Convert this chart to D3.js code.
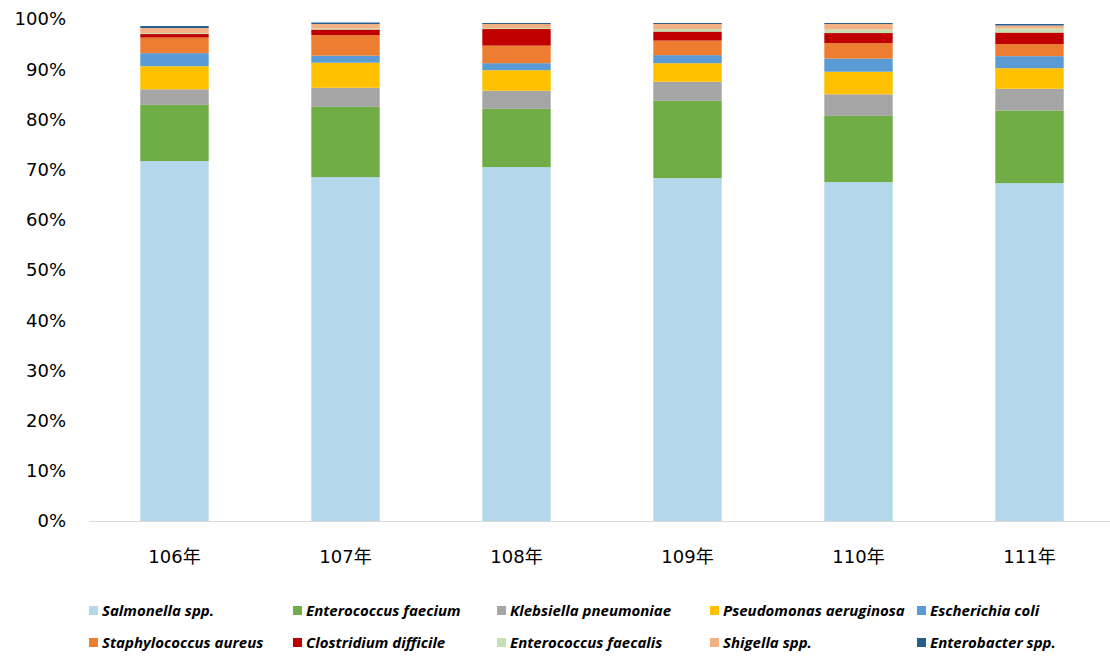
<html>
<head>
<meta charset="utf-8">
<script src="https://d3js.org/d3.v7.min.js"></script>
<style>
body { margin: 0; background: #fff; }
</style>
</head>
<body>
<svg id="chart" width="1110" height="657"></svg>
<script>
// years on the x axis
var years = ["106年", "107年", "108年", "109年", "110年", "111年"];

// species, bottom to top
var species = ["Salmonella spp.", "Enterococcus faecium", "Klebsiella pneumoniae",
  "Pseudomonas aeruginosa", "Escherichia coli", "Staphylococcus aureus",
  "Clostridium difficile", "Enterococcus faecalis", "Shigella spp.", "Enterobacter spp."];

var colors = ["#b4d7eb", "#70ad47", "#a5a5a5", "#ffc000", "#5b9bd5",
  "#ed7d31", "#c00000", "#c5e0b4", "#f4b183", "#255e91"];

// percent per species, one value per year
var salmonella    = [71.7, 68.5, 70.5, 68.3, 67.5, 67.3];
var efaecium      = [11.2, 14.0, 11.6, 15.4, 13.2, 14.5];
var klebsiella    = [3.1, 3.8, 3.6, 3.8, 4.3, 4.3];
var pseudomonas   = [4.6, 5.0, 4.1, 3.7, 4.5, 4.1];
var ecoli         = [2.6, 1.4, 1.4, 1.6, 2.6, 2.4];
var staph         = [3.1, 4.1, 3.5, 2.9, 3.1, 2.4];
var cdifficile    = [0.7, 1.1, 3.3, 1.8, 2.0, 2.3];
var efaecalis     = [0.2, 0.2, 0.2, 0.5, 0.7, 0.8];
var shigella      = [1.0, 0.9, 0.8, 1.0, 1.1, 0.6];
var enterobacter  = [0.4, 0.3, 0.2, 0.2, 0.2, 0.3];

var yTicks = [0, 10, 20, 30, 40, 50, 60, 70, 80, 90, 100];

var series = [salmonella, efaecium, klebsiella, pseudomonas, ecoli,
  staph, cdifficile, efaecalis, shigella, enterobacter];

// build rows for the stack
var rows = years.map(function(y, i) {
  var r = { year: y };
  species.forEach(function(s, k) { r[s] = series[k][i]; });
  return r;
});

var svg = d3.select("#chart");

var x = d3.scaleBand()
  .domain(years)
  .range([89, 1115])
  .paddingInner(0.6)
  .paddingOuter(0.3);

var y = d3.scaleLinear()
  .domain([0, 100])
  .range([521, 19]);

var stack = d3.stack().keys(species)(rows);

svg.append("g")
  .selectAll("g")
  .data(stack)
  .enter().append("g")
  .attr("fill", function(d, i) { return colors[i]; })
  .selectAll("rect")
  .data(function(d) { return d; })
  .enter().append("rect")
  .attr("x", function(d) { return x(d.data.year); })
  .attr("width", x.bandwidth())
  .attr("y", function(d) { return y(d[1]); })
  .attr("height", function(d) { return y(d[0]) - y(d[1]); });

// x axis line
svg.append("line")
  .attr("x1", 89).attr("x2", 1110)
  .attr("y1", y(0) + 0.5).attr("y2", y(0) + 0.5)
  .attr("stroke", "#d9d9d9")
  .attr("stroke-width", 1);

// y labels
svg.append("g")
  .selectAll("text")
  .data(yTicks)
  .enter().append("text")
  .attr("x", 66)
  .attr("y", function(d) { return y(d); })
  .attr("dy", "0.36em")
  .attr("text-anchor", "end")
  .style("font-family", "'DejaVu Sans', sans-serif")
  .style("font-size", "18px")
  .attr("fill", "#000")
  .text(function(d) { return d + "%"; });

// x labels
svg.append("g")
  .selectAll("text")
  .data(years)
  .enter().append("text")
  .attr("x", function(d) { return x(d) + x.bandwidth() / 2; })
  .attr("y", 563)
  .attr("text-anchor", "middle")
  .style("font-family", "'DejaVu Sans', 'Noto Sans CJK TC', sans-serif")
  .style("font-size", "18px")
  .attr("fill", "#000")
  .text(function(d) { return d; });

// legend, 5 per row
var legX = [89, 293, 497, 710, 917];
var legY = [611, 643];

var leg = svg.append("g")
  .selectAll("g")
  .data(species)
  .enter().append("g")
  .attr("transform", function(d, i) {
    return "translate(" + legX[i % 5] + "," + legY[Math.floor(i / 5)] + ")";
  });

leg.append("rect")
  .attr("x", 0).attr("y", -5)
  .attr("width", 9).attr("height", 9)
  .attr("fill", function(d, i) { return colors[i]; });

leg.append("text")
  .attr("x", 13)
  .attr("y", 0)
  .attr("dy", "0.35em")
  .style("font-family", "'Open Sans', Lato, sans-serif")
  .style("font-size", "15px")
  .style("font-weight", "bold")
  .style("font-style", "italic")
  .attr("fill", "#000")
  .text(function(d) { return d; });
</script>
</body>
</html>
